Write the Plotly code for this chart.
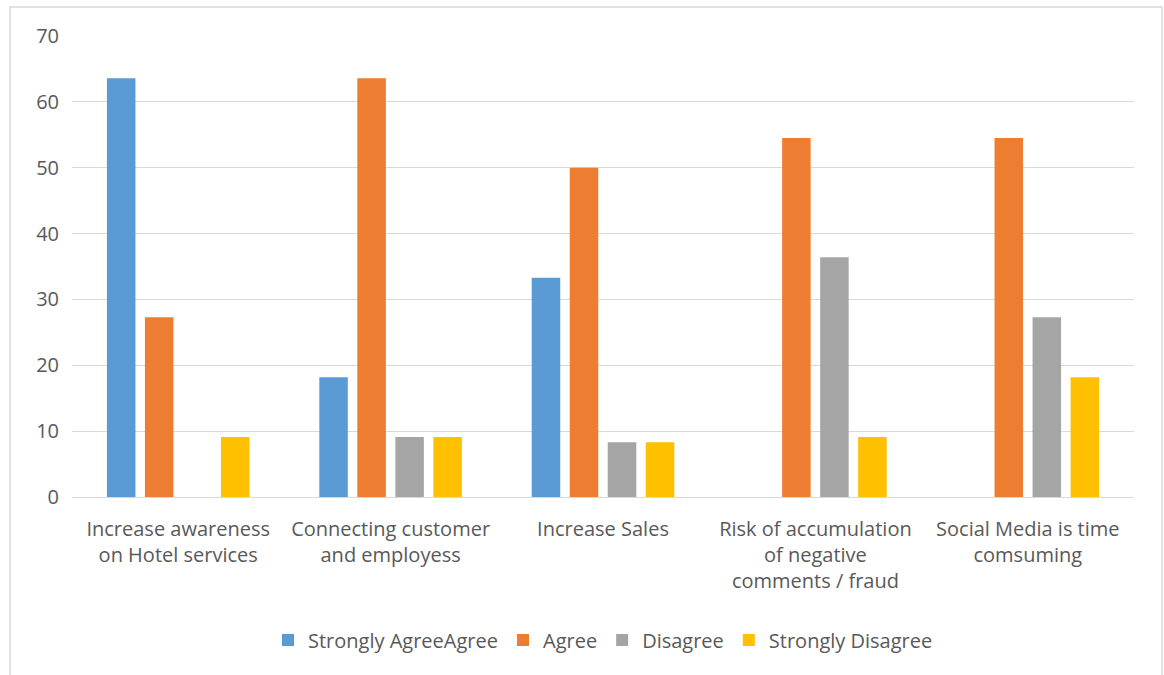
import plotly.graph_objects as go

categories = [
    "Increase awareness<br>on Hotel services",
    "Connecting customer<br>and employess",
    "Increase Sales",
    "Risk of accumulation<br>of negative<br>comments / fraud",
    "Social Media is time<br>comsuming",
]
series_names = ["Strongly AgreeAgree", "Agree", "Disagree", "Strongly Disagree"]
strongly_agree = [63.6, 18.2, 33.3, 0, 0]
agree = [27.3, 63.6, 50.0, 54.5, 54.5]
disagree = [0, 9.1, 8.3, 36.4, 27.3]
strongly_disagree = [9.1, 9.1, 8.3, 9.1, 18.2]
y_ticks = [0, 10, 20, 30, 40, 50, 60, 70]

colors = ["#5B9BD5", "#ED7D31", "#A5A5A5", "#FFC000"]
values = [strongly_agree, agree, disagree, strongly_disagree]

W, H = 1164, 675
ML, MR, MT, MB = 72, 30, 36, 178
pw, ph = W - ML - MR, H - MT - MB

fig = go.Figure()
for name, vals, col in zip(series_names, values, colors):
    fig.add_trace(go.Bar(x=categories, y=vals, name=name, marker_color=col,
                         marker_line_width=0))

text_col = "#595959"
font = "Open Sans, Noto Sans, sans-serif"


def px_to_paper_x(px):
    return (px - ML) / pw


def px_to_paper_y(py):
    return (H - MB - py) / ph


fig.update_layout(
    width=W, height=H,
    margin=dict(l=ML, r=MR, t=MT, b=MB),
    paper_bgcolor="white", plot_bgcolor="white",
    barmode="group", bargap=0.284, bargroupgap=0.25,
    font=dict(family=font, size=20, color=text_col),
    showlegend=True,
    legend=dict(orientation="h", x=0.5, xanchor="center", y=-0.268, yanchor="top",
                font=dict(size=20, color=text_col), itemwidth=30,
                traceorder="normal"),
    xaxis=dict(showgrid=False, showline=True, linecolor="#D9D9D9", linewidth=1,
               ticks="", tickfont=dict(size=20, color=text_col),
               ticklabelstandoff=14, tickangle=0),
    yaxis=dict(range=[0, 70], tickvals=y_ticks, showgrid=True,
               gridcolor="#D9D9D9", gridwidth=1, zeroline=False,
               showline=False, ticks="", tickfont=dict(size=20, color=text_col),
               ticklabelstandoff=12),
    shapes=[dict(type="rect", xref="paper", yref="paper",
                 x0=px_to_paper_x(10), x1=px_to_paper_x(1162),
                 y0=px_to_paper_y(700), y1=px_to_paper_y(7),
                 line=dict(color="#D9D9D9", width=1.5), layer="below")],
)

fig.write_html("out.html")
